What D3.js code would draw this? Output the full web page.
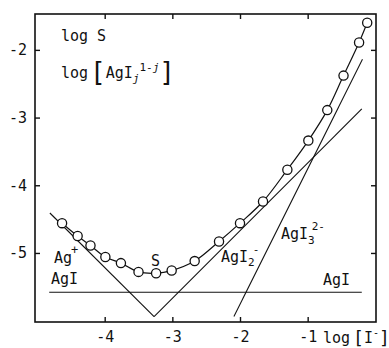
<!DOCTYPE html>
<html>
<head>
<meta charset="utf-8">
<script src="https://cdn.jsdelivr.net/npm/d3@7"></script>
<style>
  body { margin: 0; background: #fff; }
  svg text { font-family: "DejaVu Sans Mono", monospace; fill: #111; }
</style>
</head>
<body>
<svg id="chart"></svg>
<script>
// measured points (log[I-], log S)
const logI = [-4.63, -4.40, -4.21, -3.99, -3.76, -3.50, -3.24, -3.01, -2.67, -2.31,
              -2.00, -1.66, -1.30, -0.99, -0.71, -0.47, -0.24, -0.12];
const logS = [-4.56, -4.75, -4.89, -5.06, -5.15, -5.28, -5.30, -5.26, -5.12, -4.83,
              -4.56, -4.24, -3.77, -3.34, -2.89, -2.38, -1.89, -1.60];

// species lines, endpoints [log I, log c]
const lineAg = [[-4.81, -4.41], [-3.27, -5.94]];
const lineAgI2 = [[-3.27, -5.94], [-0.20, -2.87]];
const lineAgI3 = [[-2.09, -5.94], [-0.19, -2.14]];
const lineAgI = [[-4.82, -5.58], [-0.20, -5.58]];

const xTicks = [-4, -3, -2, -1];
const yTicks = [-2, -3, -4, -5];

const W = 389, H = 348;
const margin = { top: 14, right: 13, bottom: 26, left: 35 };
const width = W - margin.left - margin.right;
const height = H - margin.top - margin.bottom;

const svg = d3.select('#chart').attr('width', W).attr('height', H);
const g = svg.append('g').attr('transform', `translate(${margin.left},${margin.top})`);

const x = d3.scaleLinear().domain([-5.03, 0.01]).range([0, width]);
const y = d3.scaleLinear().domain([-6.02, -1.47]).range([height, 0]);

// frame
g.append('rect')
  .attr('width', width).attr('height', height)
  .attr('fill', 'none').attr('stroke', '#111').attr('stroke-width', 1.6);

const fmt = d => String(d);
const tick = 5;

g.append('g').attr('transform', `translate(0,${height})`)
  .call(d3.axisBottom(x).tickValues(xTicks).tickSize(-tick).tickPadding(9).tickFormat(fmt));
g.append('g')
  .call(d3.axisTop(x).tickValues(xTicks).tickSize(-tick).tickFormat(''));
g.append('g')
  .call(d3.axisLeft(y).tickValues(yTicks).tickSize(-tick).tickPadding(8).tickFormat(fmt));
g.append('g').attr('transform', `translate(${width},0)`)
  .call(d3.axisRight(y).tickValues(yTicks).tickSize(-tick).tickFormat(''));

g.selectAll('.domain').remove();
g.selectAll('.tick line').attr('stroke', '#111').attr('stroke-width', 1.4);
g.selectAll('.tick text').style('font-size', '15px').attr('fill', '#111')
  .style('font-family', '"DejaVu Sans Mono", monospace');

// straight species lines
const seg = d3.line().x(d => x(d[0])).y(d => y(d[1]));
[lineAg, lineAgI2, lineAgI3, lineAgI].forEach(l => {
  g.append('path').attr('d', seg(l))
    .attr('fill', 'none').attr('stroke', '#111').attr('stroke-width', 1.1);
});

// solubility curve
const pts = logI.map((v, i) => [v, logS[i]]);
g.append('path')
  .attr('d', d3.line().x(d => x(d[0])).y(d => y(d[1])).curve(d3.curveCatmullRom)(pts))
  .attr('fill', 'none').attr('stroke', '#111').attr('stroke-width', 1.2);

g.selectAll('circle.pt').data(pts).enter().append('circle')
  .attr('class', 'pt')
  .attr('cx', d => x(d[0])).attr('cy', d => y(d[1]))
  .attr('r', 4.6)
  .attr('fill', '#fff').attr('stroke', '#111').attr('stroke-width', 1.3);

// labels
function label(px, py, parts, size) {
  const t = svg.append('text').attr('x', px).attr('y', py).style('font-size', (size || 15) + 'px');
  parts.forEach(p => {
    const s = t.append('tspan').text(p.t);
    if (p.dy) s.attr('dy', p.dy);
    if (p.dx) s.attr('dx', p.dx);
    if (p.size) s.style('font-size', p.size + 'px');
    if (p.it) s.style('font-style', 'italic');
  });
  return t;
}

label(61, 41, [{ t: 'log S' }]);
label(61, 78, [
  { t: 'log' },
  { t: '[', size: 26, dy: 3, dx: 2 },
  { t: 'AgI', dy: -3 },
  { t: 'j', size: 11, dy: 4, it: true },
  { t: '1-', size: 11, dy: -11 },
  { t: 'j', size: 11, it: true },
  { t: ']', size: 26, dy: 10 }
]);

label(54, 263, [{ t: 'Ag' }, { t: '+', size: 12, dy: -9, dx: -1 }]);
label(51, 284, [{ t: 'AgI' }]);
label(151, 266, [{ t: 'S' }]);
label(221, 262, [{ t: 'AgI' }, { t: '2', size: 11, dy: 4 }, { t: '-', size: 11, dy: -13, dx: -2 }]);
label(281, 239, [{ t: 'AgI' }, { t: '3', size: 11, dy: 5 }, { t: '2-', size: 11, dy: -14, dx: -3 }]);
label(323, 285, [{ t: 'AgI' }]);
label(323, 343, [
  { t: 'log' },
  { t: '[', size: 18, dy: 1, dx: 3 },
  { t: 'I', dy: -1 },
  { t: '-', size: 10, dy: -7 },
  { t: ']', size: 18, dy: 8 }
]);
</script>
</body>
</html>
